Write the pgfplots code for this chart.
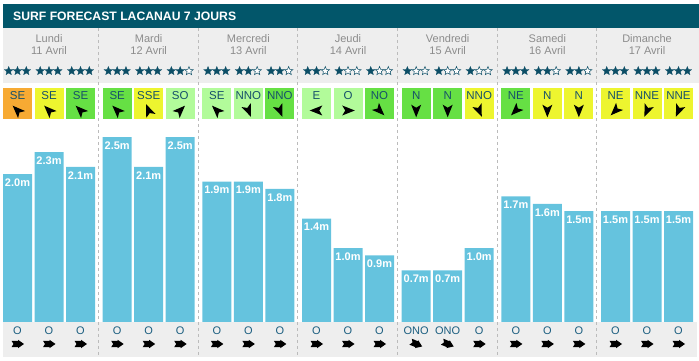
\documentclass[border=0pt]{standalone}
\usepackage{pgfplots}
\pgfplotsset{compat=1.18}
\usepackage{fontspec}
\setmainfont{Liberation Sans}
\usetikzlibrary{shapes.geometric}
\definecolor{teal}{HTML}{02566A}
\definecolor{band}{HTML}{EEEEEE}
\definecolor{sep}{HTML}{BBBBBB}
\definecolor{barc}{HTML}{65C3DE}
\definecolor{orng}{HTML}{F7AA33}
\definecolor{yel}{HTML}{EDF52F}
\definecolor{grn}{HTML}{66E044}
\definecolor{lgrn}{HTML}{B2FB9A}
\definecolor{starc}{HTML}{0C4E66}
\definecolor{boxt}{HTML}{16506A}
\definecolor{dayc}{HTML}{8C8C8C}
\definecolor{swt}{HTML}{1B5E80}
\begin{document}
\begin{tikzpicture}
\path (0,0) rectangle (699pt,361pt);
\begin{scope}[x=1pt,y=-1pt,yshift=361pt]
  % title bar
  \fill[teal] (3,4) rectangle (699,28);
  \node[anchor=west,text=white,font=\fontsize{12.2}{14}\selectfont\bfseries,inner sep=0] at (13,16) {SURF FORECAST LACANAU 7 JOURS};
  % gray bands
  \fill[band] (3,28) rectangle (699,83);
  \fill[band] (3,322.5) rectangle (697,357);
  % separators
  \foreach \s in {98.5,198.17,297.84,397.51,497.18,596.85}
    \draw[sep,dash pattern=on 3pt off 3pt,line width=0.8pt] (\s,28) -- (\s,357);
  % day labels
  \foreach \c/\d/\t in {49/Lundi/11, 148.67/Mardi/12, 248.34/Mercredi/13, 348.01/Jeudi/14, 447.68/Vendredi/15, 547.35/Samedi/16, 647.02/Dimanche/17}{
    \node[text=dayc,font=\fontsize{11}{13}\selectfont,inner sep=0] at (\c,39) {\d};
    \node[text=dayc,font=\fontsize{11}{13}\selectfont,inner sep=0] at (\c,51) {\t\ Avril};
  }
  % slots
  \foreach \c/\w/\a/\col/\n/\sw/\sa in {
    17.5/SE/135/orng/3/O/0, 49.0/SE/135/yel/3/O/0, 80.5/SE/135/grn/3/O/0,
    117.17/SE/135/grn/3/O/0, 148.67/SSE/112.5/yel/3/O/0, 180.17/SO/45/lgrn/2/O/0,
    216.84/SE/135/lgrn/3/O/0, 248.34/NNO/-67.5/lgrn/2/O/0, 279.84/NNO/-67.5/grn/2/O/0,
    316.51/E/180/lgrn/2/O/0, 348.01/O/0/lgrn/1/O/0, 379.51/NO/-45/grn/1/O/0,
    416.18/N/-90/grn/1/ONO/-22.5, 447.68/N/-90/grn/1/ONO/-22.5, 479.18/NNO/-67.5/yel/1/O/0,
    515.85/NE/-135/grn/3/O/0, 547.35/N/-90/yel/2/O/0, 578.85/N/-90/yel/2/O/0,
    615.52/NE/-135/yel/3/O/0, 647.02/NNE/-112.5/yel/3/O/0, 678.52/NNE/-112.5/yel/3/O/0}{
    % stars
    \foreach \k in {0,1,2}{
      \pgfmathsetmacro{\sx}{\c+(\k-1)*8.8}
      \ifnum\k<\n
        \node[star,star points=5,star point ratio=2.3,fill=starc,draw=starc,line width=0.3pt,minimum size=9pt,inner sep=0] at (\sx,71) {};
      \else
        \node[star,star points=5,star point ratio=2.3,fill=white,draw=starc,line width=0.5pt,minimum size=9pt,inner sep=0] at (\sx,71) {};
      \fi
    }
    % wind box
    \fill[\col] (\c-14.5,88) rectangle (\c+14.5,119);
    \node[text=boxt,font=\fontsize{11.5}{13}\selectfont,inner sep=0] at (\c,96) {\w};
    \fill[black,shift={(\c,110.5)},rotate=\a] (6.8,0) -- (-5.8,5) -- (-2.8,0) -- (-5.8,-5) -- cycle;
    % swell
    \node[text=swt,font=\fontsize{11}{13}\selectfont,inner sep=0] at (\c,331) {\sw};
    \fill[black,shift={(\c,344)},rotate=\sa] (-6,-3.2) -- (0.5,-3.2) -- (0.5,-4.2) -- (6.5,0) -- (0.5,4.2) -- (0.5,3.2) -- (-6,3.2) -- (-4,0) -- cycle;
  }
\end{scope}
\begin{axis}[
  at={(0pt,0pt)}, anchor=south west,
  scale only axis, width=699pt, height=361pt,
  xmin=0, xmax=699, ymin=-0.5277, ymax=4.3572,
  hide axis, clip=false,
  /pgf/number format/assume math mode=true,
]
\addplot[ybar, bar width=29pt, fill=barc, draw=none,
  nodes near coords={\pgfmathprintnumber[fixed,fixed zerofill,precision=1]{\pgfplotspointmeta}m},
  every node near coord/.append style={anchor=north, inner sep=0pt, yshift=-4.5pt, text=white, font=\fontsize{11}{13}\selectfont\bfseries}]
coordinates {
(17.5,2.0) (49.0,2.3) (80.5,2.1)
(117.17,2.5) (148.67,2.1) (180.17,2.5)
(216.84,1.9) (248.34,1.9) (279.84,1.8)
(316.51,1.4) (348.01,1.0) (379.51,0.9)
(416.18,0.7) (447.68,0.7) (479.18,1.0)
(515.85,1.7) (547.35,1.6) (578.85,1.5)
(615.52,1.5) (647.02,1.5) (678.52,1.5)
};
\end{axis}
\end{tikzpicture}
\end{document}
